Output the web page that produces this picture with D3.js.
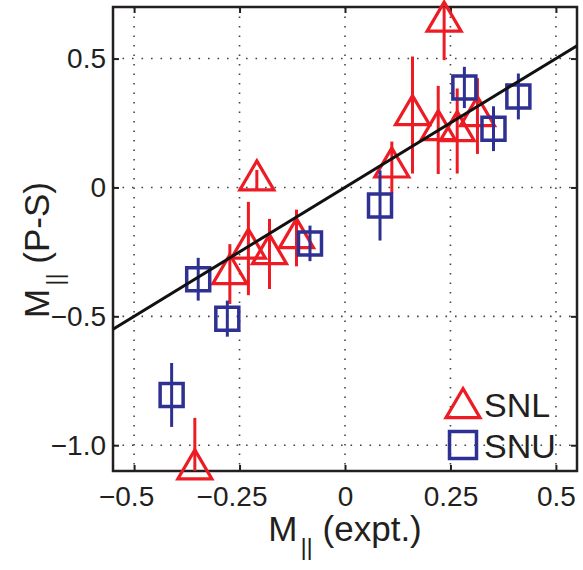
<!DOCTYPE html>
<html>
<head>
<meta charset="utf-8">
<script src="https://cdn.jsdelivr.net/npm/d3@7"></script>
<style>
  body { margin: 0; background: #fff; }
  text { font-family: "Liberation Sans", Arial, Helvetica, sans-serif; fill: #231f20; }
  .axis path, .axis line { stroke: #231f20; }
</style>
</head>
<body>
<div id="chart"></div>
<script>
// SNL (triangles) and SNU (squares): x = M|| expt, y = M|| (P-S), err = half error bar
const snlX   = [0.235, 0.160, 0.221, 0.266, 0.314, 0.111, -0.209, -0.273, -0.229, -0.179, -0.115, -0.356];
const snlY   = [0.644, 0.281, 0.223, 0.219, 0.277, 0.078, 0.028, -0.336, -0.237, -0.258, -0.196, -1.093];
const snlErr = [0.150, 0.227, 0.171, 0.165, 0.147, 0.100, 0.040, 0.116, 0.181, 0.136, 0.110, 0.199];

const snuX   = [-0.411, -0.348, -0.279, -0.083, 0.083, 0.283, 0.352, 0.411];
const snuY   = [-0.805, -0.356, -0.509, -0.217, -0.070, 0.388, 0.228, 0.353];
const snuErr = [0.124, 0.083, 0.070, 0.069, 0.136, 0.080, 0.087, 0.089];

const fitLine = [[-0.55, -0.55], [0.55, 0.55]];

const xTicks = [-0.5, -0.25, 0, 0.25, 0.5];
const xTickLabels = ["\u22120.5", "\u22120.25", "0", "0.25", "0.5"];
const yTicks = [-1.0, -0.5, 0, 0.5];
const yTickLabels = ["\u22121.0", "\u22120.5", "0", "0.5"];

const width = 583, height = 570;
const margin = { top: 7, right: 6, bottom: 99, left: 113 };
const red = "#ed1c24", blue = "#2e3192";

const svg = d3.select("#chart").append("svg")
  .attr("width", width)
  .attr("height", height);

const x = d3.scaleLinear()
  .domain([-0.55, 0.55])
  .range([margin.left, width - margin.right]);
const y = d3.scaleLinear()
  .domain([-1.1, 0.7])
  .range([height - margin.bottom, margin.top]);

const pw = x.range()[1] - x.range()[0];
const ph = y.range()[0] - y.range()[1];

svg.append("clipPath").attr("id", "plot-clip")
  .append("rect")
  .attr("x", margin.left).attr("y", margin.top)
  .attr("width", pw).attr("height", ph);

// dotted grid
const grid = svg.append("g").attr("stroke", "#444").attr("stroke-width", 1.6)
  .attr("stroke-dasharray", "1.6,7.9");
grid.selectAll("line.gx").data(xTicks).enter().append("line")
  .attr("x1", d => x(d)).attr("x2", d => x(d))
  .attr("y1", y.range()[1]).attr("y2", y.range()[0]);
grid.selectAll("line.gy").data(yTicks).enter().append("line")
  .attr("y1", d => y(d)).attr("y2", d => y(d))
  .attr("x1", x.range()[0]).attr("x2", x.range()[1]);

// axes, ticks pointing inward
const fmtX = (d, i) => xTickLabels[i];
const fmtY = (d, i) => yTickLabels[i];

const gx = svg.append("g").attr("class", "axis")
  .attr("transform", `translate(0,${y.range()[0]})`)
  .call(d3.axisBottom(x).tickValues(xTicks).tickFormat(fmtX).tickSizeInner(-6).tickSizeOuter(0).tickPadding(15));
const gy = svg.append("g").attr("class", "axis")
  .attr("transform", `translate(${x.range()[0]},0)`)
  .call(d3.axisLeft(y).tickValues(yTicks).tickFormat(fmtY).tickSizeInner(-6).tickSizeOuter(0).tickPadding(7));
svg.append("g").attr("class", "axis")
  .attr("transform", `translate(0,${y.range()[1]})`)
  .call(d3.axisTop(x).tickValues(xTicks).tickFormat("").tickSizeInner(-6).tickSizeOuter(0));
svg.append("g").attr("class", "axis")
  .attr("transform", `translate(${x.range()[1]},0)`)
  .call(d3.axisRight(y).tickValues(yTicks).tickFormat("").tickSizeInner(-6).tickSizeOuter(0));

svg.selectAll(".axis path").remove();
svg.selectAll(".axis line").attr("stroke-width", 2);
svg.selectAll(".axis text").attr("font-size", 28).attr("fill", "#231f20")
  .style("font-family", "'Liberation Sans', Arial, sans-serif");
// negative x labels: number centred on the tick, minus sign hangs left
gx.selectAll("text").attr("dx", d => d < 0 ? -8 : 0);

// box
svg.append("rect")
  .attr("x", margin.left).attr("y", margin.top)
  .attr("width", pw).attr("height", ph)
  .attr("fill", "none").attr("stroke", "#231f20").attr("stroke-width", 2.5);

const triPath = (w, h) => `M0,${-2 * h / 3}L${w / 2},${h / 3}L${-w / 2},${h / 3}Z`;
const sqPath = s => `M${-s / 2},${-s / 2}H${s / 2}V${s / 2}H${-s / 2}Z`;

const snl = snlX.map((d, i) => ({ x: d, y: snlY[i], e: snlErr[i] }));
const snu = snuX.map((d, i) => ({ x: d, y: snuY[i], e: snuErr[i] }));

// SNL
svg.append("g").attr("clip-path", "url(#plot-clip)")
  .selectAll("line").data(snl).enter().append("line")
  .attr("x1", d => x(d.x)).attr("x2", d => x(d.x))
  .attr("y1", d => y(d.y - d.e)).attr("y2", d => y(d.y + d.e))
  .attr("stroke", red).attr("stroke-width", 3);
svg.append("g").selectAll("path").data(snl).enter().append("path")
  .attr("d", triPath(34, 29))
  .attr("transform", d => `translate(${x(d.x)},${y(d.y)})`)
  .attr("fill", "none").attr("stroke", red).attr("stroke-width", 3.2);

// SNU
svg.append("g").attr("clip-path", "url(#plot-clip)")
  .selectAll("line").data(snu).enter().append("line")
  .attr("x1", d => x(d.x)).attr("x2", d => x(d.x))
  .attr("y1", d => y(d.y - d.e)).attr("y2", d => y(d.y + d.e))
  .attr("stroke", blue).attr("stroke-width", 3);
svg.append("g").selectAll("path").data(snu).enter().append("path")
  .attr("d", sqPath(23))
  .attr("transform", d => `translate(${x(d.x)},${y(d.y)})`)
  .attr("fill", "none").attr("stroke", blue).attr("stroke-width", 3.5);

// y = x line
svg.append("path")
  .datum(fitLine)
  .attr("clip-path", "url(#plot-clip)")
  .attr("d", d3.line().x(d => x(d[0])).y(d => y(d[1])))
  .attr("fill", "none").attr("stroke", "#111").attr("stroke-width", 3);

// legend
const legend = svg.append("g");
legend.append("path").attr("d", triPath(34, 29))
  .attr("transform", "translate(463,408)")
  .attr("fill", "none").attr("stroke", red).attr("stroke-width", 3.2);
legend.append("text").attr("x", 484).attr("y", 417).attr("font-size", 34).text("SNL");
legend.append("path").attr("d", sqPath(27))
  .attr("transform", "translate(463,445)")
  .attr("fill", "none").attr("stroke", blue).attr("stroke-width", 3.5);
legend.append("text").attr("x", 484).attr("y", 458).attr("font-size", 34).text("SNU");

// axis labels
const xl = svg.append("text")
  .attr("x", (x.range()[0] + x.range()[1]) / 2).attr("y", 541)
  .attr("text-anchor", "middle").attr("font-size", 35);
xl.append("tspan").text("M");
xl.append("tspan").attr("font-size", 24).attr("dx", 3).attr("dy", 14).text("||");
xl.append("tspan").attr("dy", -14).text(" (expt.)");

const yl = svg.append("text")
  .attr("transform", "translate(49,250) rotate(-90)")
  .attr("text-anchor", "middle").attr("font-size", 35);
yl.append("tspan").text("M");
yl.append("tspan").attr("font-size", 24).attr("dx", 3).attr("dy", 14).text("||");
yl.append("tspan").attr("dy", -14).text(" (P-S)");
</script>
</body>
</html>
